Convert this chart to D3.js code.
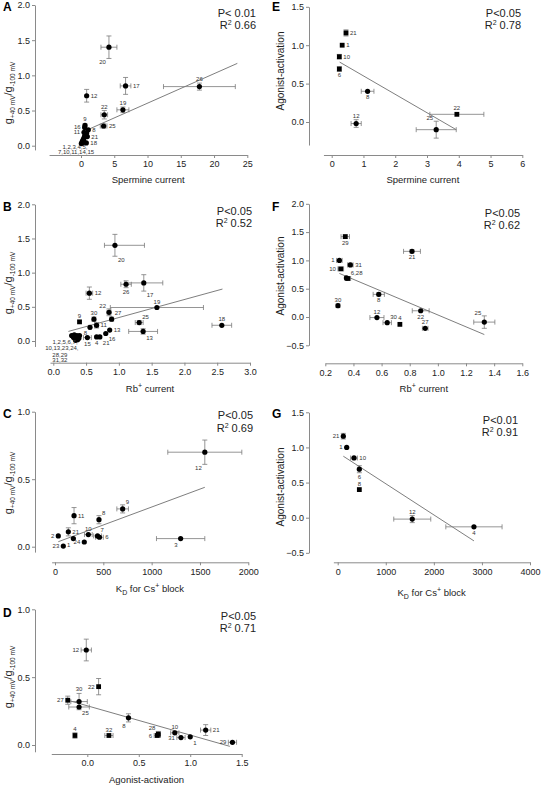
<!DOCTYPE html>
<html><head><meta charset="utf-8">
<script src="https://cdn.jsdelivr.net/npm/d3@7"></script>
<style>body{margin:0;background:#fff}svg{display:block;font-family:"Liberation Sans",Arial,sans-serif}</style>
</head><body><svg id="c" width="541" height="785"></svg>
<script>
// ---------------- DATA ----------------
// rows: [label, x, y, xErr, yErr, shape]  (xErr may be [minus, plus]); shape "s" = square
const A_points = [
 ["20",4.2,1.40,1.2,0.16],["17",6.7,0.85,0.8,0.12],["26",17.8,0.84,5.4,0.05],
 ["12",0.85,0.71,0,0.09],["22",3.5,0.44,0.5,0.06],["19",6.3,0.51,0.9,0.04],
 ["25",3.4,0.28,0.5,0.03],["9",0.6,0.29,0,0.02],["16",0.55,0.26,0,0],
 ["11",0.45,0.19,0,0],["8",1.1,0.225,0,0],["21",0.95,0.13,0,0],["18",0.8,0.04,0,0],
 ["",0.05,0.03,0,0],["",0.15,0.05,0,0],["",0.25,0.07,0,0],["",0.35,0.09,0,0],
 ["",0.45,0.11,0,0],["",0.55,0.14,0,0],["",0.7,0.16,0,0],["",0.85,0.18,0,0],
 ["",0.2,0.04,0,0],["",0.4,0.07,0,0]
];
const A_notes = [["1,2,3,4,5,",-0.9,-0.047],["7,10,11,14,15",-0.75,-0.125]];
const A_fit = [0.4,0.202,23.5,1.17];
const A_stats = ["P< 0.01","0.66"];

const E_points = [
 ["21",0.45,1.16,0.05,0.04,"s"],["1",0.33,1.00,0,0,"s"],["10",0.24,0.85,0,0.03,"s"],
 ["6",0.24,0.69,0,0.03,"s"],["8",1.13,0.40,0.2,0],["12",0.77,-0.02,0.16,0.05],
 ["22",3.94,0.10,0.85,0,"s"],["25",3.29,-0.10,0.63,0.11]
];
const E_fit = [0.25,0.78,3.92,-0.10];
const E_stats = ["P<0.05","0.78"];

const B_points = [
 ["20",0.94,1.40,[0.16,0.45],0.16],["17",1.38,0.85,0.29,0.12],["26",1.11,0.83,0.08,0.05],
 ["12",0.55,0.70,0.05,0.09],["19",1.58,0.49,0.71,0],["22",0.85,0.42,0.03,0.05],
 ["30",0.62,0.32,0,0.03],["27",0.89,0.32,0,0.03],["9",0.40,0.28,0,0,"s"],
 ["25",1.31,0.27,0.06,0.03],["11",0.66,0.23,0.03,0.04],["8",0.56,0.20,0.02,0],
 ["18",2.57,0.23,0.15,0],["13",1.37,0.14,0.22,0.04],["13",0.86,0.16,0,0],
 ["16",0.80,0.11,0,0],["21",0.71,0.06,0,0],["4",0.66,0.06,0,0],["15",0.52,0.05,0.06,0],
 ["",0.28,0.08,0,0],["",0.30,0.07,0,0],["",0.32,0.09,0,0],["",0.33,0.05,0,0],
 ["",0.35,0.03,0,0],["",0.36,0.08,0,0],["",0.37,0.02,0,0],["",0.38,0.06,0,0],
 ["",0.39,0.04,0,0],["",0.34,0.01,0,0],["",0.31,0.05,0,0],["",0.40,0.08,0,0],["",0.36,0.05,0,0]
];
const B_notes = [["1,2,5,6,7,",0.18,-0.044],["10,13,23,24,",0.13,-0.13],["28,29",0.10,-0.23],["31,32",0.10,-0.31]];
const B_fit = [0.23,0.14,2.58,0.76];
const B_stats = ["P<0.05","0.52"];

const F_points = [
 ["29",0.342,1.42,0.03,0.03,"s"],["21",0.816,1.16,0.06,0.03],["1",0.30,1.00,0.02,0],
 ["10",0.31,0.85,0.02,0,"s"],["31",0.378,0.92,0.02,0.03],["6,28",0.36,0.68,0.02,0,"s"],
 ["",0.35,0.69,0,0],["8",0.58,0.40,0.04,0.03],["30",0.29,0.20,0,0.03],
 ["12",0.567,-0.01,0.05,0],["30",0.64,-0.10,0.03,0],["4",0.73,-0.13,0,0,"s"],
 ["27",0.91,-0.20,0.02,0],["22",0.878,0.11,0.06,0],["25",1.33,-0.09,0.075,0.11]
];
const F_fit = [0.30,0.77,1.33,-0.31];
const F_stats = ["P<0.05","0.62"];

const C_points = [
 ["12",1550,0.70,383,0.09],["3",1300,0.06,250,0],["9",700,0.28,60,0.03],
 ["8",455,0.20,0,0.03],["11",197,0.23,0,0.06],["21",138,0.11,0,0.03],
 ["2",34,0.08,0,0],["23",86,0.005,0,0],["1",190,0.06,0,0],["24",303,0.035,0,0],
 ["10",345,0.09,40,0],["7",440,0.08,40,0],["6",460,0.07,40,0]
];
const C_fit = [34,0.037,1550,0.44];
const C_stats = ["P<0.05","0.69"];

const G_points = [
 ["21",117,1.16,0,0.04],["1",187,1.0,0,0],["10",339,0.85,70,0],
 ["6",450,0.69,0,0.05],["8",450,0.40,0,0,"s"],["12",1551,-0.02,385,0.05],
 ["4",2834,-0.13,585,0]
];
const G_fit = [117,0.875,2834,-0.33];
const G_stats = ["P<0.01","0.91"];

const D_points = [
 ["12",-0.01,0.70,0.05,0.08],["22",0.11,0.43,0,0.06,"s"],["30",-0.08,0.32,0.08,0.06],
 ["27",-0.19,0.33,0,0.03,"s"],["25",-0.08,0.28,0.1,0],["8",0.40,0.20,0,0.03],
 ["4",-0.12,0.07,0,0.02,"s"],["32",0.21,0.07,0.04,0,"s"],["28",0.69,0.08,0,0.02,"s"],
 ["6",0.68,0.07,0.03,0,"s"],["10",0.85,0.09,0.04,0],["31",0.91,0.055,0.04,0],
 ["1",1.0,0.06,0,0],["21",1.15,0.11,0.05,0.04],["29",1.41,0.02,0.04,0]
];
const D_fit = [-0.19,0.33,1.385,-0.01];
const D_stats = ["P<0.05","0.71"];

// ---------------- LAYOUT ----------------
const dirs = {
 A:["bl","r","t","r","t","t","r","t","l","l","r","r","r"],
 E:["r","r","r","b","b","t","t","tl"],
 B:["br","br","b","r","t","tl","t","tr","t","tr","r","bl","t","br","r","br","br","b","b"],
 F:["b","b","l","l","r","tr","","b","t","t","tr","t","t","b","tl"],
 C:["bl","bl","tr","tr","r","r","l","l","bl","l","t","tr","r"],
 G:["l","l","r","b","t","t","b"],
 D:["l","l","t","l","br","bl","t","t","tl","l","t","l","br","r","l"]
};
const f1 = d3.format(".1f"), f0 = d3.format("d");
const gTitle = "gratio", agTitle = "Agonist-activation";
const panels = [
 {id:"A",pts:A_points,notes:A_notes,fit:A_fit,st:A_stats,axY:155,axX:35,
  xc:[0,81,25,247.3],xe:[-4.8,25],yc:[0,145.7,2,5],ye:[-0.06,2],
  xt:[0,5,10,15,20,25],xf:f0,yt:[0,0.5,1,1.5,2],yf:f1,
  xTitle:["Spermine current"],yTitle:gTitle,letter:[3,11],stXY:[256,17,28.5],xTY:183,yTX:12,yTC:93},
 {id:"E",pts:E_points,notes:[],fit:E_fit,st:E_stats,axY:155,axX:309,
  xc:[0,331.7,6,522.3],xe:[-0.26,6],yc:[0,122,1.5,6.8],ye:[-0.3,1.5],
  xt:[0,1,2,3,4,5,6],xf:f0,yt:[0,0.5,1,1.5],yf:f1,
  xTitle:["Spermine current"],yTitle:agTitle,letter:[272,11],stXY:[521,17,28.5],xTY:183,yTX:284,yTC:71},
 {id:"B",pts:B_points,notes:B_notes,fit:B_fit,st:B_stats,axY:362.7,axX:35,
  xc:[0,53.3,3,250],xe:[-0.05,3],yc:[0,341,2,204.3],ye:[-0.08,2],
  xt:[0,0.5,1,1.5,2,2.5,3],xf:f1,yt:[0,0.5,1,1.5,2],yf:f1,
  xTitle:["Rb","+"," current"],yTitle:gTitle,letter:[3,211],stXY:[252,215,227],xTY:392,yTX:12,yTC:283},
 {id:"F",pts:F_points,notes:[],fit:F_fit,st:F_stats,axY:363.3,axX:309,
  xc:[0.2,325.3,1.6,522.3],xe:[0.2,1.6],yc:[0,317,2,203.8],ye:[-0.5,2],
  xt:[0.2,0.4,0.6,0.8,1.0,1.2,1.4,1.6],xf:f1,yt:[-0.5,0,0.5,1,1.5,2],yf:f1,
  xTitle:["Rb","+"," current"],yTitle:agTitle,letter:[272,211],stXY:[520,217,228.5],xTY:392,yTX:284,yTC:276},
 {id:"C",pts:C_points,notes:[],fit:C_fit,st:C_stats,axY:562.3,axX:35,
  xc:[0,55,2000,248.3],xe:[-35,2000],yc:[0,546.7,1,411.7],ye:[-0.04,1],
  xt:[0,500,1000,1500,2000],xf:f0,yt:[0,0.5,1],yf:f1,
  xTitle:"KD",yTitle:gTitle,letter:[3,418],stXY:[253,419,432],xTY:592,yTX:12,yTC:483},
 {id:"G",pts:G_points,notes:[],fit:G_fit,st:G_stats,axY:562.3,axX:309,
  xc:[0,337.7,4000,530],xe:[-90,4000],yc:[0,517.7,1.5,412.3],ye:[-0.5,1.5],
  xt:[0,1000,2000,3000,4000],xf:f0,yt:[-0.5,0,0.5,1,1.5],yf:f1,
  xTitle:"KD",yTitle:agTitle,letter:[272,418],stXY:[518,424,436],xTY:596,yTX:284,yTC:487},
 {id:"D",pts:D_points,notes:[],fit:D_fit,st:D_stats,axY:754,axX:35,
  xc:[0,87.3,1.5,241.7],xe:[-0.35,1.5],yc:[0,745,1,609.3],ye:[-0.05,1],
  xt:[0,0.5,1,1.5],xf:f1,yt:[0,0.5,1],yf:f1,
  xTitle:["Agonist-activation"],yTitle:gTitle,letter:[3,617],stXY:[256,620,632],xTY:783,yTX:12,yTC:677}
];

const svg = d3.select("#c");
const AX = "#8a8a8a", TXT = "#222", ERR = "#7a7a7a", FIT = "#6f6f6f";

function mk(c, e){
  const k = (c[3]-c[1])/(c[2]-c[0]);
  return d3.scaleLinear().domain(e).range([c[1]+(e[0]-c[0])*k, c[1]+(e[1]-c[0])*k]);
}

function drawPanel(P){
  const g = svg.append("g");
  const sx = mk(P.xc, P.xe), sy = mk(P.yc, P.ye);

  const xa = g.append("g").attr("transform",`translate(0,${P.axY})`)
    .call(d3.axisBottom(sx).tickValues(P.xt).tickFormat(P.xf).tickSize(3).tickSizeOuter(0).tickPadding(3));
  const ya = g.append("g").attr("transform",`translate(${P.axX},0)`)
    .call(d3.axisLeft(sy).tickValues(P.yt).tickFormat(P.yf).tickSize(3).tickSizeOuter(0).tickPadding(2));
  [xa,ya].forEach(a=>{
    a.select(".domain").attr("stroke",AX);
    a.selectAll(".tick line").attr("stroke",AX);
    a.selectAll(".tick text").attr("fill",TXT).style("font-size","9px").style("font-family","Liberation Sans, Arial, sans-serif");
  });

  // regression line
  g.append("line").attr("x1",sx(P.fit[0])).attr("y1",sy(P.fit[1]))
    .attr("x2",sx(P.fit[2])).attr("y2",sy(P.fit[3])).attr("stroke",FIT).attr("stroke-width",0.9);

  // error bars
  const cap = 2.5;
  P.pts.forEach(p=>{
    const [lab,x,y,xe,ye] = p;
    const xm = Array.isArray(xe)?xe[0]:xe, xp = Array.isArray(xe)?xe[1]:xe;
    const cx = sx(x), cy = sy(y);
    if(xm||xp){
      const x0 = sx(x-xm), x1 = sx(x+xp);
      g.append("line").attr("x1",x0).attr("x2",x1).attr("y1",cy).attr("y2",cy).attr("stroke",ERR).attr("stroke-width",0.8);
      [x0,x1].forEach(xx=>g.append("line").attr("x1",xx).attr("x2",xx).attr("y1",cy-cap).attr("y2",cy+cap).attr("stroke",ERR).attr("stroke-width",0.8));
    }
    if(ye){
      const y0 = sy(y-ye), y1 = sy(y+ye);
      g.append("line").attr("x1",cx).attr("x2",cx).attr("y1",y0).attr("y2",y1).attr("stroke",ERR).attr("stroke-width",0.8);
      [y0,y1].forEach(yy=>g.append("line").attr("x1",cx-cap).attr("x2",cx+cap).attr("y1",yy).attr("y2",yy).attr("stroke",ERR).attr("stroke-width",0.8));
    }
  });
  // markers
  P.pts.forEach(p=>{
    const cx = sx(p[1]), cy = sy(p[2]);
    if(p[5]==="s") g.append("rect").attr("x",cx-2.4).attr("y",cy-2.4).attr("width",4.8).attr("height",4.8).attr("fill","#000");
    else g.append("circle").attr("cx",cx).attr("cy",cy).attr("r",2.6).attr("fill","#000");
  });
  // point labels
  const dl = dirs[P.id];
  P.pts.forEach((p,i)=>{
    const lab = p[0], d = dl[i];
    if(!lab || !d) return;
    const xe = p[3], ye = p[4];
    const xm = Array.isArray(xe)?xe[0]:xe, xp = Array.isArray(xe)?xe[1]:xe;
    const cx = sx(p[1]), cy = sy(p[2]);
    const rx = (xp? sx(p[1]+xp)-cx : 0), lx = (xm? cx-sx(p[1]-xm) : 0);
    const ty = (ye? cy-sy(p[2]+ye) : 0);
    let x=cx, y=cy, a="middle";
    if(d==="r"){x=cx+Math.max(4,rx+2); y=cy+2; a="start";}
    if(d==="l"){x=cx-Math.max(4,lx+2); y=cy+2; a="end";}
    if(d==="t"){y=cy-Math.max(4,ty+2);}
    if(d==="b"){y=cy+Math.max(8,ty+6);}
    if(d==="tr"){x=cx+3; y=cy-Math.max(4,ty+1); a="start";}
    if(d==="tl"){x=cx-3; y=cy-Math.max(4,ty+1); a="end";}
    if(d==="br"){x=cx+3; y=cy+Math.max(8,ty+6); a="start";}
    if(d==="bl"){x=cx-3; y=cy+Math.max(8,ty+6); a="end";}
    g.append("text").attr("x",x).attr("y",y).attr("text-anchor",a)
      .attr("fill","#333").style("font-size","6px").text(lab);
  });
  P.notes.forEach(n=>{
    g.append("text").attr("x",sx(n[1])).attr("y",sy(n[2])).attr("text-anchor","middle")
      .attr("fill","#333").style("font-size","6px").text(n[0]);
  });

  // stats
  g.append("text").attr("x",P.stXY[0]).attr("y",P.stXY[1]).attr("text-anchor","end")
    .attr("fill",TXT).style("font-size","11px").text(P.st[0]);
  const r2 = g.append("text").attr("x",P.stXY[0]).attr("y",P.stXY[2]).attr("text-anchor","end")
    .attr("fill",TXT).style("font-size","11px");
  r2.append("tspan").text("R");
  r2.append("tspan").attr("dy",-4).style("font-size","7px").text("2");
  r2.append("tspan").attr("dy",4).text(" "+P.st[1]);

  // panel letter
  g.append("text").attr("x",P.letter[0]).attr("y",P.letter[1]).attr("font-weight","bold")
    .style("font-size","12px").attr("fill","#000").text(P.id);

  // x title
  const xmid = (sx.range()[0]+sx.range()[1])/2;
  const xt = g.append("text").attr("x",xmid).attr("y",P.xTY).attr("text-anchor","middle")
    .attr("fill",TXT).style("font-size","9.5px");
  if(P.xTitle==="KD"){
    xt.append("tspan").text("K");
    xt.append("tspan").attr("dy",2.5).style("font-size","7px").text("D");
    xt.append("tspan").attr("dy",-2.5).text(" for Cs");
    xt.append("tspan").attr("dy",-4).style("font-size","7px").text("+");
    xt.append("tspan").attr("dy",4).text(" block");
  } else if(P.xTitle.length===3){
    xt.append("tspan").text(P.xTitle[0]);
    xt.append("tspan").attr("dy",-4).style("font-size","7px").text(P.xTitle[1]);
    xt.append("tspan").attr("dy",4).text(P.xTitle[2]);
  } else xt.text(P.xTitle[0]);

  // y title
  const yt = g.append("text").attr("transform",`translate(${P.yTX},${P.yTC}) rotate(-90)`)
    .attr("text-anchor","middle").attr("fill",TXT);
  if(P.yTitle==="gratio"){
    yt.style("font-size","11px");
    yt.append("tspan").text("g");
    yt.append("tspan").attr("dy",2.5).style("font-size","6.5px").text("+40 mV");
    yt.append("tspan").attr("dy",-2.5).text("/g");
    yt.append("tspan").attr("dy",2.5).style("font-size","6.5px").text("-100 mV");
  } else {
    yt.style("font-size","10px").text(P.yTitle);
  }
}
panels.forEach(drawPanel);
</script></body></html>
